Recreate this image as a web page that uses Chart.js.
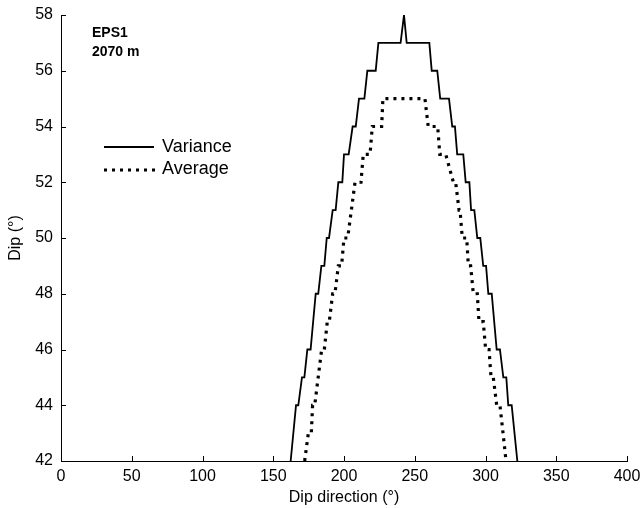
<!DOCTYPE html>
<html>
<head>
<meta charset="utf-8">
<script src="https://cdn.jsdelivr.net/npm/chart.js@4"></script>
<style>
  body { margin: 0; background: #fff; }
  #wrap { width: 640px; height: 508px; }
</style>
</head>
<body>
<div id="wrap"><canvas id="myChart" width="640" height="508"></canvas></div>
<script>
// values (dip direction, dip)
var varX = [162.3, 166.1, 167.7, 170.3, 172, 174.1, 176.4, 180, 181.8, 184, 186.1, 187.8, 189.4, 192, 194.1,
    196, 198.8, 200, 203.3, 206.1, 208.3, 210.6, 214.4, 216.5, 222.4, 224.3, 240, 242.4, 244.3, 260.3,
    262, 265.9, 268, 274.2, 276.5, 278.4, 280, 284.3, 286, 288.6, 289.8, 292.1, 294.2, 296.3, 298.4,
    300.4, 302, 304.4, 307.9, 310.2, 312.6, 314.7, 316.1, 318.5, 322.5];
var varY = [42, 44, 44, 45, 45, 46, 46, 48, 48, 49, 49, 50, 50, 51, 51,
    52, 52, 53, 53, 54, 54, 55, 55, 56, 56, 57, 57, 58, 57, 57,
    56, 56, 55, 55, 54, 54, 53, 53, 52, 52, 51, 51, 50, 50, 49,
    49, 48, 48, 46, 46, 45, 45, 44, 44, 42];

var avgX = [172.2, 174.8, 176.9, 177.8, 179.3, 184.2, 186.1, 188.2, 189.6, 192, 193.6, 196, 198.3, 200, 202.6,
    207.8, 212, 213.6, 218.4, 220, 226.6, 227.5, 257.2, 259.5, 266.2, 267.7, 271.9, 277.3, 278.9,
    281.3, 282, 283.6, 286.7, 287.9, 289.5, 291.4, 294.2, 295.4, 298.4, 300.1, 302.5, 303.9, 305.5,
    307.9, 310.2, 312.4, 314.5];
var avgY = [42, 43, 43, 44, 44, 46, 46, 47, 47, 48, 48, 49, 49, 50, 50,
    52, 52, 53, 53, 54, 54, 55, 55, 54, 54, 53, 53, 52, 52,
    51, 51, 50, 50, 49, 49, 48, 48, 47, 47, 46, 46, 45, 45,
    44, 44, 43, 42];

var xTicks = [0, 50, 100, 150, 200, 250, 300, 350, 400];
var yTicks = [42, 44, 46, 48, 50, 52, 54, 56, 58];
var seriesNames = ['Variance', 'Average'];
var labelLines = ['EPS1', '2070 m'];

function pts(xs, ys) {
    return xs.map(function(x, i) { return { x: x, y: ys[i] }; });
}

var FONT = "Arial, 'Liberation Sans', Helvetica, sans-serif";

// inward ticks, legend and the label in the corner
var extras = {
    id: 'extras',
    afterDraw: function(chart) {
        var ctx = chart.ctx;
        var xs = chart.scales.x, ys = chart.scales.y;
        var area = chart.chartArea;
        ctx.save();
        ctx.strokeStyle = '#000';
        ctx.lineWidth = 1;
        ctx.beginPath();
        xTicks.forEach(function(v) {
            var px = Math.round(xs.getPixelForValue(v)) + 0.5;
            ctx.moveTo(px, area.bottom);
            ctx.lineTo(px, area.bottom - 5);
        });
        yTicks.forEach(function(v) {
            var py = Math.round(ys.getPixelForValue(v)) + 0.5;
            ctx.moveTo(area.left, py);
            ctx.lineTo(area.left + 5, py);
        });
        ctx.stroke();

        // legend
        ctx.lineWidth = 1.8;
        ctx.beginPath();
        ctx.moveTo(104, 147);
        ctx.lineTo(154, 147);
        ctx.stroke();
        ctx.lineWidth = 3.2;
        ctx.setLineDash([3, 5]);
        ctx.beginPath();
        ctx.moveTo(104, 170);
        ctx.lineTo(156, 170);
        ctx.stroke();
        ctx.setLineDash([]);
        ctx.fillStyle = '#000';
        ctx.font = '18px ' + FONT;
        ctx.textBaseline = 'middle';
        ctx.textAlign = 'left';
        ctx.fillText(seriesNames[0], 162, 147);
        ctx.fillText(seriesNames[1], 162, 169);

        ctx.font = 'bold 14px ' + FONT;
        ctx.fillText(labelLines[0], 92, 33);
        ctx.fillText(labelLines[1], 92, 52);
        ctx.restore();
    }
};

var ctx = document.getElementById('myChart').getContext('2d');
var chart = new Chart(ctx, {
    type: 'line',
    data: {
        datasets: [{
            label: seriesNames[0],
            data: pts(varX, varY),
            borderColor: '#000',
            borderWidth: 1.8,
            pointRadius: 0,
            fill: false,
            tension: 0
        }, {
            label: seriesNames[1],
            data: pts(avgX, avgY),
            borderColor: '#000',
            borderWidth: 3.2,
            borderDash: [3, 5],
            borderCapStyle: 'butt',
            pointRadius: 0,
            fill: false,
            tension: 0
        }]
    },
    options: {
        responsive: false,
        animation: false,
        layout: { padding: { top: 15, right: 13, left: 0, bottom: 0 } },
        plugins: {
            legend: { display: false },
            tooltip: { enabled: false }
        },
        scales: {
            x: {
                type: 'linear',
                min: 0,
                max: 400,
                afterBuildTicks: function(s) { s.ticks = xTicks.map(function(v) { return { value: v }; }); },
                afterFit: function(s) { s.height = 47; s.paddingLeft = 0; s.paddingRight = 0; },
                grid: { display: false, drawTicks: false },
                border: { display: true, color: '#000', width: 1 },
                ticks: { color: '#000', padding: 6, font: { size: 16, family: FONT } },
                title: { display: true, text: 'Dip direction (°)', color: '#000', padding: { top: 0, bottom: 1 }, font: { size: 16, family: FONT } }
            },
            y: {
                type: 'linear',
                min: 42,
                max: 58,
                afterBuildTicks: function(s) { s.ticks = yTicks.map(function(v) { return { value: v }; }); },
                afterFit: function(s) { s.width = 61; s.paddingTop = 0; s.paddingBottom = 0; },
                grid: { display: false, drawTicks: false },
                border: { display: true, color: '#000', width: 1 },
                ticks: { color: '#000', padding: 8, font: { size: 16, family: FONT } },
                title: { display: true, text: 'Dip (°)', color: '#000', padding: { top: 6, bottom: 0 }, font: { size: 16, family: FONT } }
            }
        }
    },
    plugins: [extras]
});
</script>
</body>
</html>
